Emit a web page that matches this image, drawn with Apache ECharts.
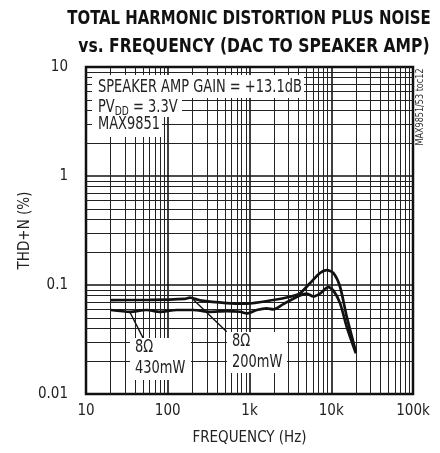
<!DOCTYPE html>
<html>
<head>
<meta charset="utf-8">
<script src="https://cdn.jsdelivr.net/npm/echarts@6/dist/echarts.min.js"></script>
<style>
html,body{margin:0;padding:0;background:#fff;}
#chart{width:440px;height:453px;}
</style>
</head>
<body>
<div id="chart"></div>
<script>
// ---- Data ----
const freq200 = [20, 61, 162, 187, 248, 526, 925, 1955, 3127, 4150, 5500, 7280, 8790, 10590, 12800, 15460, 20000];
const thd200  = [0.0728, 0.073, 0.0746, 0.0765, 0.0723, 0.0683, 0.0675, 0.0728, 0.0781, 0.084, 0.104, 0.129, 0.137, 0.129, 0.0964, 0.0512, 0.0244];

const freq430 = [20, 34.5, 55, 80, 129, 205, 329, 526, 765, 925, 1225, 1622, 1955, 2590, 3775, 5010, 6030, 7280, 9200, 10590, 12800, 15460, 20000];
const thd430  = [0.059, 0.0568, 0.059, 0.0568, 0.059, 0.059, 0.0568, 0.0577, 0.0568, 0.0548, 0.059, 0.0611, 0.0598, 0.0668, 0.0777, 0.0834, 0.0785, 0.0834, 0.0955, 0.0893, 0.0682, 0.0414, 0.0236];

const xTickValues = [10, 100, 1000, 10000, 100000];
const xTickLabels = ['10', '100', '1k', '10k', '100k'];
const yTickValues = [0.01, 0.1, 1, 10];
const yTickLabels = ['0.01', '0.1', '1', '10'];

const titleLines = ['TOTAL HARMONIC DISTORTION PLUS NOISE', 'vs. FREQUENCY (DAC TO SPEAKER AMP)'];
const xName = 'FREQUENCY (Hz)';
const yName = 'THD+N (%)';

// ---- Build ----
const FONT = '"DejaVu Sans Condensed", "DejaVu Sans", sans-serif';

function pairs(xs, ys) { return xs.map((x, i) => [x, ys[i]]); }

// minor grid positions (2..9 within each decade)
const minorX = [], minorY = [];
for (let d = 10; d < 100000; d *= 10) for (let k = 2; k <= 9; k++) minorX.push({xAxis: d * k});
for (let d = 0.01; d < 9; d *= 10) for (let k = 2; k <= 9; k++) minorY.push({yAxis: +(d * k).toPrecision(3)});

function labelFmt(vals, labels) {
  return function (v) {
    for (let i = 0; i < vals.length; i++) if (Math.abs(Math.log10(v) - Math.log10(vals[i])) < 1e-6) return labels[i];
    return '';
  };
}

function ptext(x, y, text, size, sx, extra) {
  return Object.assign({type: 'text', z: 60, x: x, y: y, scaleX: sx,
    style: Object.assign({text: text, font: size + 'px ' + FONT, fill: '#222', verticalAlign: 'middle'}, extra || {})});
}

const chart = echarts.init(document.getElementById('chart'), null, {renderer: 'canvas'});
const option = {
  animation: false,
  backgroundColor: '#fff',
  grid: {left: 86, right: 27, top: 67, bottom: 59, show: true, borderColor: '#111', borderWidth: 2.5, backgroundColor: 'transparent'},
  xAxis: {
    type: 'log', logBase: 10, min: 10, max: 100000, splitNumber: 4,
    name: xName, nameLocation: 'middle', nameGap: 37, nameMoveOverlap: false,
    nameTextStyle: {fontFamily: FONT, fontSize: 15, color: '#222'},
    axisLine: {show: false}, axisTick: {show: false},
    axisLabel: {formatter: labelFmt(xTickValues, xTickLabels), fontFamily: FONT, fontSize: 15, color: '#222', margin: 10},
    splitLine: {show: true, lineStyle: {color: '#111', width: 1.6}}
  },
  yAxis: {
    type: 'log', logBase: 10, min: 0.01, max: 10, splitNumber: 3,
    name: yName, nameLocation: 'middle', nameGap: 53, nameRotate: 90, nameMoveOverlap: false,
    nameTextStyle: {fontFamily: FONT, fontSize: 15, color: '#222'},
    axisLine: {show: false}, axisTick: {show: false},
    axisLabel: {formatter: labelFmt(yTickValues, yTickLabels), fontFamily: FONT, fontSize: 15, color: '#222', margin: 18},
    splitLine: {show: true, lineStyle: {color: '#111', width: 1.6}}
  },
  series: [
    {
      type: 'line', data: [], silent: true,
      markLine: {silent: true, symbol: 'none', label: {show: false}, lineStyle: {color: '#222', width: 1, type: 'solid'},
        data: minorX.concat(minorY), animation: false}
    },
    {
      name: '8Ω 200mW', type: 'line', data: pairs(freq200, thd200), smooth: 0.25, symbol: 'none',
      lineStyle: {color: '#111', width: 2.7}, z: 5
    },
    {
      name: '8Ω 430mW', type: 'line', data: pairs(freq430, thd430), smooth: 0.25, symbol: 'none',
      lineStyle: {color: '#111', width: 2.7}, z: 6,
      markLine: {silent: true, symbol: ['none', 'arrow'], symbolSize: [0, 14], label: {show: false},
        lineStyle: {color: '#111', width: 1.4, type: 'solid'},
        data: [
          [{coord: [49.8, 0.0327]}, {coord: [34.0, 0.0575]}],
          [{coord: [526, 0.0373]}, {coord: [205, 0.0735]}]
        ]}
    }
  ],
  graphic: [
    // title
    {type: 'text', z: 100, x: 249, y: 19, scaleX: 0.83,
      style: {text: titleLines[0], font: 'bold 20px ' + FONT, fill: '#111', align: 'center', verticalAlign: 'middle'}},
    {type: 'text', z: 100, x: 254, y: 47, scaleX: 0.865,
      style: {text: titleLines[1], font: 'bold 20px ' + FONT, fill: '#111', align: 'center', verticalAlign: 'middle'}},
    // top-left text boxes
    {type: 'rect', z: 50, shape: {x: 92, y: 75, width: 212, height: 23}, style: {fill: '#fff'}},
    {type: 'rect', z: 50, shape: {x: 92, y: 98, width: 90, height: 19}, style: {fill: '#fff'}},
    {type: 'rect', z: 50, shape: {x: 92, y: 117, width: 70, height: 20}, style: {fill: '#fff'}},
    ptext(98, 88, 'SPEAKER AMP GAIN = +13.1dB', 17, 0.85),
    ptext(98, 108, 'PV{s|DD} = 3.3V', 17, 0.85, {rich: {s: {font: '12px ' + FONT, fill: '#222', padding: [8, 0, 0, 0]}}}),
    ptext(98, 125, 'MAX9851', 17, 0.85),
    // bottom annotation boxes
    {type: 'rect', z: 50, shape: {x: 130, y: 338, width: 61, height: 42}, style: {fill: '#fff'}},
    ptext(135, 348, '8Ω', 17, 0.85),
    ptext(135, 369, '430mW', 17, 0.85),
    {type: 'rect', z: 50, shape: {x: 227, y: 332, width: 60, height: 41}, style: {fill: '#fff'}},
    ptext(232, 342, '8Ω', 17, 0.85),
    ptext(232, 363, '200mW', 17, 0.85),
    // side code
    {type: 'text', z: 60, x: 420, y: 107, rotation: Math.PI / 2, scaleX: 0.9,
      style: {text: 'MAX9851/53 toc12', font: '10px ' + FONT, fill: '#333', align: 'center', verticalAlign: 'middle'}}
  ]
};
chart.setOption(option);
</script>
</body>
</html>
